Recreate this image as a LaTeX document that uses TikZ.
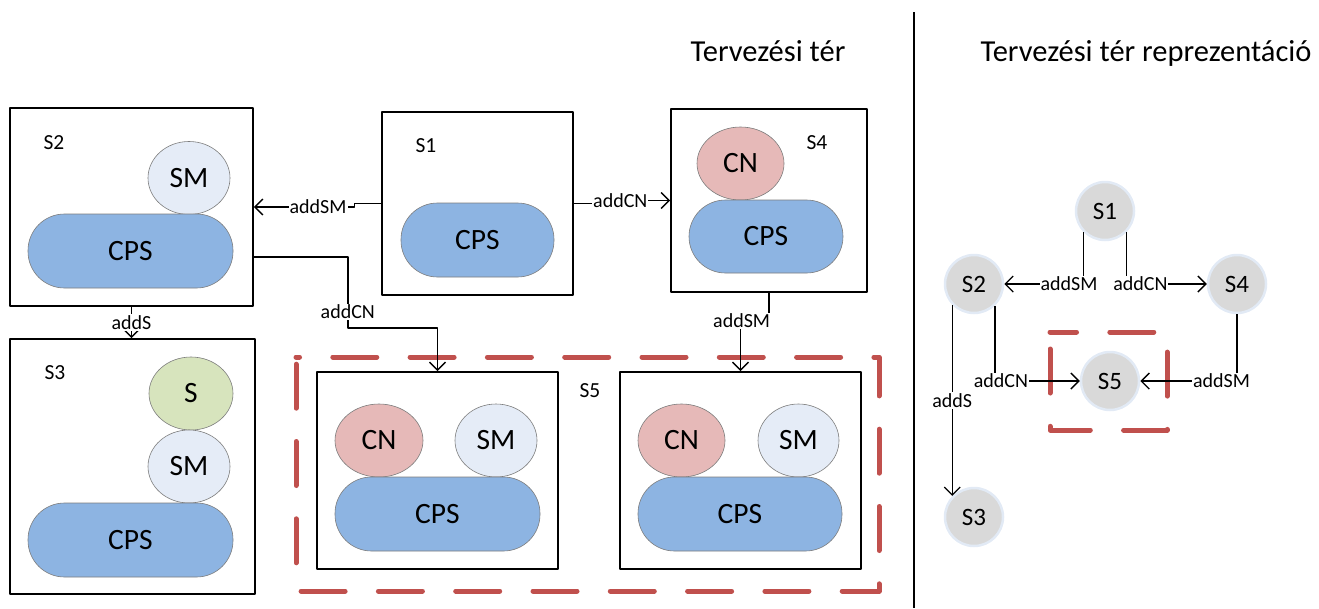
\documentclass[tikz,border=0pt]{standalone}
\usepackage{fontspec}
\setmainfont{Carlito}
\usetikzlibrary{arrows.meta,shapes.geometric}

\definecolor{cpsblue}{RGB}{141,180,226}
\definecolor{smblue}{RGB}{229,236,247}
\definecolor{cnpink}{RGB}{230,185,184}
\definecolor{sgreen}{RGB}{215,228,189}
\definecolor{stategray}{RGB}{217,217,217}
\definecolor{haloblue}{RGB}{226,234,245}
\definecolor{groupred}{RGB}{192,80,77}
\definecolor{shapeline}{RGB}{125,125,125}

\begin{document}
\begin{tikzpicture}[x=1pt,y=-1pt,line join=round,
  statebox/.style={rectangle, draw=black, line width=1.6pt, fill=white, inner sep=0pt},
  blob/.style={ellipse, draw=shapeline, line width=0.6pt, inner sep=0pt,
    minimum height=73pt, font=\fontsize{29.5}{34}\selectfont},
  cps/.style={rectangle, rounded corners=36.5pt, draw=shapeline, line width=0.6pt,
    fill=cpsblue, inner sep=0pt, minimum height=74pt, font=\fontsize{29.5}{34}\selectfont},
  tag/.style={inner sep=0pt, font=\fontsize{21.5}{26}\selectfont},
  lbl/.style={fill=white, inner sep=1pt, font=\fontsize{20}{24}\selectfont},
  arr/.style={draw=black, line width=1.4pt, -{Straight Barb[length=8pt,width=16pt]}},
  state/.style={circle, fill=stategray, draw=haloblue, line width=2.5pt,
    minimum size=58pt, inner sep=0pt, font=\fontsize{25}{30}\selectfont},
  title/.style={anchor=base, inner sep=0pt, font=\fontsize{30.5}{36}\selectfont},
  grouprect/.style={draw=groupred, line width=5pt, line cap=round,
    dash pattern=on 44pt off 33.3pt}
]
\useasboundingbox (0,0) rectangle (1319,608);

% headings and divider
\node[title] (hspace) at (768,61) {Tervezési tér};
\node[title] (hrepr) at (1146,61) {Tervezési tér reprezentáció};
\draw[line width=2.4pt] (914,12) -- (914,608);

% design-space states
\node[statebox, minimum width=243pt, minimum height=198pt] (S2) at (131.5,207) {};
\node[statebox, minimum width=191pt, minimum height=183pt] (S1) at (477.5,203.5) {};
\node[statebox, minimum width=196pt, minimum height=183pt] (S4) at (769,200.5) {};
\node[statebox, minimum width=245pt, minimum height=255pt] (S3) at (132.5,466.5) {};
\node[statebox, minimum width=241pt, minimum height=197pt] (S5a) at (437.5,470.5) {};
\node[statebox, minimum width=241pt, minimum height=197pt] (S5b) at (740.5,470.5) {};

% S2
\node[tag] (s2tag) at (54,143) {S2};
\node[blob, fill=smblue, minimum width=82pt] (s2sm) at (189,178) {SM};
\node[cps, minimum width=205pt] (s2cps) at (130.5,251) {CPS};
% S1
\node[tag] (s1tag) at (426,146) {S1};
\node[cps, minimum width=153pt] (s1cps) at (477.5,240) {CPS};
% S4
\node[tag] (s4tag) at (817,143) {S4};
\node[blob, fill=cnpink, minimum width=87pt] (s4cn) at (740.5,163.5) {CN};
\node[cps, minimum width=154pt, minimum height=73pt] (s4cps) at (766,236.5) {CPS};
% S3
\node[tag] (s3tag) at (55,373) {S3};
\node[blob, fill=sgreen, minimum width=84pt] (s3s) at (191,393.5) {S};
\node[blob, fill=smblue, minimum width=82pt] (s3sm) at (189,466.5) {SM};
\node[cps, minimum width=205pt] (s3cps) at (130.5,540) {CPS};
% S5, two variants
\node[tag] (s5tag) at (590,391) {S5};
\node[blob, fill=cnpink, minimum width=88pt] (s5acn) at (379,440.5) {CN};
\node[blob, fill=smblue, minimum width=82pt] (s5asm) at (496,440.5) {SM};
\node[cps, minimum width=205pt] (s5acps) at (437.5,514) {CPS};
\node[blob, fill=cnpink, minimum width=87pt] (s5bcn) at (681.5,440.5) {CN};
\node[blob, fill=smblue, minimum width=81pt] (s5bsm) at (798.5,440.5) {SM};
\node[cps, minimum width=204pt] (s5bcps) at (740,514) {CPS};

% S5 group
\draw[grouprect, dash phase=40.5pt] (296,357) -- (879,357) -- (879,591) -- (296,591) -- cycle;

% design-space transitions
\draw[arr] (S1.west) -- ++(-27,0) |- (S2.east) node[lbl,pos=0.68] {addSM};
\draw[arr] (S1.east) -- ++(37,0) |- (S4.west) node[lbl,pos=0.58] {addCN};
\draw[arr] ([yshift=-50pt]S2.east) -- ++(94,0) -- ++(0,71) node[lbl,pos=0.77] {addCN} -| (S5a.north);
\draw[arr] (S4.south) -- ++(0,28) -| (S5b.north) node[lbl,pos=0.48] {addSM};
\draw[arr] (S2.south) -- (S2.south |- S3.north) node[lbl,midway] {addS};

% representation graph
\node[state] (R1) at (1105,211) {S1};
\node[state] (R2) at (974,284) {S2};
\node[state] (R4) at (1237,284) {S4};
\node[state] (R5) at (1110,381) {S5};
\node[state] (R3) at (974,517) {S3};

\draw[grouprect, dash phase=17.5pt] (1050,332) -- (1167,332) -- (1167,430) -- (1050,430) -- cycle;

\draw[arr] (R1.224) |- (R2.east) node[lbl,pos=0.59] {addSM};
\draw[arr] (R1.316) |- (R4.west) node[lbl,pos=0.585] {addCN};
\draw[arr] (R2.314) |- (R5.west) node[lbl,pos=0.535] {addCN};
\draw[arr] (R4.south) |- (R5.east) node[lbl,pos=0.58] {addSM};
\draw[arr] (R2.224) -- (R3.136) node[lbl,midway] {addS};
\end{tikzpicture}
\end{document}
